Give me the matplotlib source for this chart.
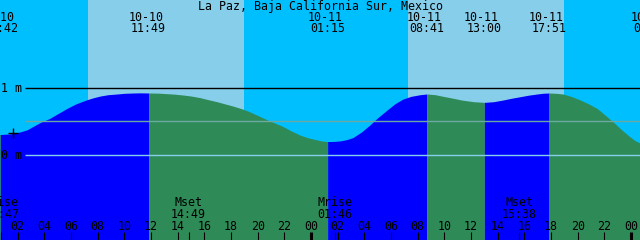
import numpy as np
import matplotlib.pyplot as plt
import matplotlib.transforms as mtransforms

# ── Curva de marea (horas desde 10-10 00:00, altura en m) ────────────────────
hours = [0.0, 0.7, 1.5, 2.2, 2.7, 3.15, 3.7, 4.4, 5.0, 5.7, 6.4, 7.2, 7.7,
         8.2, 8.8, 9.45, 10.0, 10.65, 11.2, 11.82,
         12.5, 13.2, 13.8, 14.4, 15.0, 15.7, 16.3, 16.95, 17.5, 18.15, 18.8,
         19.4, 20.0, 20.7, 21.3, 21.9, 22.5, 23.2, 23.8, 24.45, 24.85, 25.25,
         25.7, 26.2, 26.7, 27.15, 27.8, 28.4, 29.0, 29.7, 30.3, 30.9, 31.5,
         32.2, 32.68,
         33.3, 34.05, 34.7, 35.3, 36.2, 37.0,
         37.7, 38.4, 39.0, 39.7, 40.3, 40.95, 41.4, 41.85,
         42.4, 42.9, 43.5, 44.2, 44.8, 45.45, 46.0, 46.65, 47.3, 47.9, 48.3,
         48.7, 49.5]
heights = [0.32, 0.31, 0.32, 0.35, 0.38, 0.43, 0.49, 0.55, 0.62, 0.70, 0.77,
           0.83, 0.86, 0.885, 0.905, 0.915, 0.925, 0.93, 0.932, 0.93,
           0.928, 0.92, 0.912, 0.90, 0.885, 0.86, 0.83, 0.80, 0.77, 0.735,
           0.695, 0.65, 0.595, 0.53, 0.48, 0.43, 0.365, 0.30, 0.26, 0.23,
           0.212, 0.205,
           0.207, 0.215, 0.235, 0.265, 0.35, 0.45, 0.56, 0.675, 0.77, 0.84,
           0.88, 0.905, 0.915,
           0.905, 0.875, 0.85, 0.825, 0.80, 0.79,
           0.80, 0.825, 0.85, 0.875, 0.897, 0.915, 0.926, 0.93,
           0.925, 0.915, 0.88, 0.825, 0.77, 0.70, 0.61, 0.50, 0.38, 0.28,
           0.22, 0.18, 0.15]

# Pleamares / bajamares
tide_hours = [0.7, 11.82, 25.25, 32.68, 37.0, 41.85, 49.5]
tide_dates = ['10-10', '10-10', '10-11', '10-11', '10-11', '10-11', '10-12']
tide_times = ['00:42', '11:49', '01:15', '08:41', '13:00', '17:51', '01:30']
tide_high  = [False, True, False, True, False, True, False]

# Sol y luna
sunrise_hours = [7.27, 31.27]
sunset_hours  = [18.97, 42.97]
moon_hours = [0.78, 14.82, 25.77, 39.63]
moon_names = ['Mrise', 'Mset', 'Mrise', 'Mset']
moon_times = ['00:47', '14:49', '01:46', '15:38']

mean_level = 0.516
marker_hour, marker_height = 1.65, 0.333

hour_ticks = list(range(2, 49, 2))
hour_labels = [f'{h % 24:02d}' for h in hour_ticks]

# ── Colores ──────────────────────────────────────────────────────────────────
NIGHT = '#00BFFF'
DAY = '#87CEEB'
RISING = '#0000FF'
FALLING = '#2E8B57'

plt.rcParams['font.family'] = ['DejaVu Sans Mono']
FS = 8.4

# ── Figura ───────────────────────────────────────────────────────────────────
fig = plt.figure(figsize=(6.4, 2.4), dpi=100)
ax = fig.add_axes([0, 0, 1, 1])
ax.set_xlim(0.675, 48.675)
ax.set_ylim(-1.264, 2.318)
ax.axis('off')
fig.patch.set_facecolor(NIGHT)

for a, b in zip(sunrise_hours, sunset_hours):
    ax.axvspan(a, b, color=DAY, lw=0, zorder=0)

# Relleno: azul subiendo (hacia pleamar), verde bajando (hacia bajamar)
t = np.array(hours)
h = np.array(heights)
bottom = ax.get_ylim()[0]
bounds = [t[0]] + tide_hours
for i in range(len(bounds) - 1):
    a, b = bounds[i], bounds[i + 1]
    col = RISING if tide_high[i] else FALLING
    m = (t >= a) & (t <= b)
    ax.fill_between(t[m], h[m], bottom, color=col, lw=0, zorder=1)

# Líneas de referencia
ax.hlines(1.0, 2.55, 48.7, color='black', lw=1.0, zorder=2)
ax.hlines(mean_level, 2.55, 48.7, color='#6CA9A0', lw=1.0, zorder=2)
ax.hlines(0.0, 2.55, 48.7, color='#87CEEB', lw=1.0, zorder=2)
ax.plot([marker_hour], [marker_height], marker='+', color='black',
        ms=7, mew=1.0, zorder=3)

yl = mtransforms.blended_transform_factory(ax.transAxes, ax.transData)
ax.text(0.002, 1.0, '1 m', transform=yl, fontsize=FS, va='center', ha='left')
ax.text(0.002, 0.0, '0 m', transform=yl, fontsize=FS, va='center', ha='left')

# Textos superiores e inferiores
tr = mtransforms.blended_transform_factory(ax.transData, ax.transAxes)
fig.text(0.5, 1 - 6.5 / 240, 'La Paz, Baja California Sur, Mexico',
         fontsize=FS, ha='center', va='center')
for th, d, s in zip(tide_hours, tide_dates, tide_times):
    ax.text(th - 0.22, 1 - 17.5 / 240, d, transform=tr, fontsize=FS,
            ha='center', va='center', clip_on=False)
    ax.text(th, 1 - 29 / 240, s, transform=tr, fontsize=FS,
            ha='center', va='center', clip_on=False)

for mh, n, s in zip(moon_hours, moon_names, moon_times):
    ax.text(mh, 1 - 202.5 / 240, n, transform=tr, fontsize=FS,
            ha='center', va='center')
    ax.text(mh, 1 - 214 / 240, s, transform=tr, fontsize=FS,
            ha='center', va='center')
    ax.vlines(mh, 0, 8 / 240, transform=tr, color='black', lw=0.8, zorder=4)

for hh, lab in zip(hour_ticks, hour_labels):
    ax.text(hh, 1 - 226 / 240, lab, transform=tr, fontsize=FS,
            ha='center', va='center')
    ax.vlines(hh, 0, 8 / 240, transform=tr, color='black',
              lw=2.2 if hh % 24 == 0 else 0.8, zorder=4)

plt.savefig('out.png', dpi=100)
